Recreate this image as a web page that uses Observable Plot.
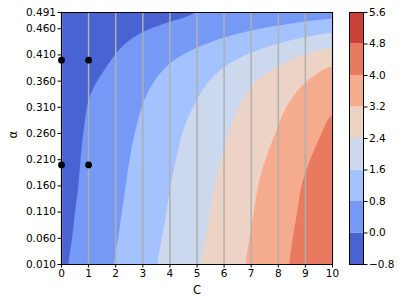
<!DOCTYPE html>
<html>
<head>
<meta charset="utf-8">
<script src="https://cdn.jsdelivr.net/npm/d3@7"></script>
<script src="https://cdn.jsdelivr.net/npm/@observablehq/plot@0.6"></script>
<style>
  html, body { margin: 0; padding: 0; background: white; }
  #wrap { position: relative; width: 399px; height: 304px; }
  #wrap svg { position: absolute; left: 0; top: 0; }
</style>
</head>
<body>
<div id="wrap"></div>
<script>
// ---- data ----
const cValues = [0, 1, 2, 3, 4, 5, 6, 7, 8, 9, 10];
const alphaRows = [0.010, 0.060, 0.110, 0.160, 0.210, 0.260, 0.310, 0.335, 0.360, 0.390, 0.410, 0.430, 0.450, 0.465, 0.478, 0.491];
const zRows = [
  [-0.13, 0.35, 0.84, 1.34, 1.84, 2.34, 2.82, 3.31, 3.81, 4.31, 4.83],
  [-0.19, 0.28, 0.75, 1.25, 1.75, 2.25, 2.74, 3.23, 3.73, 4.24, 4.75],
  [-0.23, 0.23, 0.69, 1.17, 1.66, 2.16, 2.66, 3.15, 3.65, 4.15, 4.65],
  [-0.28, 0.17, 0.62, 1.10, 1.60, 2.08, 2.58, 3.08, 3.58, 4.08, 4.58],
  [-0.31, 0.13, 0.57, 1.02, 1.49, 1.98, 2.46, 2.95, 3.43, 3.92, 4.41],
  [-0.33, 0.08, 0.50, 0.93, 1.39, 1.86, 2.33, 2.79, 3.25, 3.72, 4.19],
  [-0.37, 0.03, 0.42, 0.82, 1.24, 1.67, 2.14, 2.62, 3.08, 3.56, 4.04],
  [-0.40, -0.02, 0.36, 0.74, 1.15, 1.55, 2.03, 2.50, 2.92, 3.37, 3.85],
  [-0.50, -0.11, 0.27, 0.65, 1.03, 1.42, 1.87, 2.35, 2.78, 3.20, 3.60],
  [-0.63, -0.26, 0.11, 0.48, 0.85, 1.21, 1.57, 1.98, 2.39, 2.85, 3.31],
  [-0.66, -0.31, 0.01, 0.34, 0.66, 1.00, 1.33, 1.68, 2.06, 2.44, 2.85],
  [-0.68, -0.36, -0.08, 0.18, 0.45, 0.71, 1.02, 1.34, 1.66, 1.95, 2.25],
  [-0.68, -0.40, -0.17, 0.04, 0.26, 0.47, 0.68, 0.92, 1.20, 1.49, 1.75],
  [-0.68, -0.47, -0.27, -0.09, 0.09, 0.27, 0.46, 0.64, 0.82, 1.03, 1.24],
  [-0.68, -0.50, -0.33, -0.19, -0.05, 0.08, 0.21, 0.35, 0.48, 0.62, 0.75],
  [-0.70, -0.59, -0.48, -0.37, -0.24, -0.12, -0.02, 0.10, 0.20, 0.30, 0.40]
];
const levels = [-0.8, 0, 0.8, 1.6, 2.4, 3.2, 4.0, 4.8, 5.6];
const bandColors = ["#4a63d3", "#7699f6", "#a3c2fe", "#cbd8ee", "#ecd3c5", "#f5ab8d", "#e97a5f", "#cc403a"];
const xTicks = [0, 1, 2, 3, 4, 5, 6, 7, 8, 9, 10];
const yTicks = [0.010, 0.060, 0.110, 0.160, 0.210, 0.260, 0.310, 0.360, 0.410, 0.460, 0.491];
const pointC = [0, 1, 0, 1];
const pointAlpha = [0.40, 0.40, 0.20, 0.20];
const xLabel = "C";
const yLabel = "α";

// ---- build tables ----
const grid = alphaRows.flatMap((a, i) => cValues.map((c, j) => ({C: c, alpha: a, z: zRows[i][j]})));
const points = pointC.map((c, i) => ({C: c, alpha: pointAlpha[i]}));
const bands = levels.slice(0, -1).map((lo, i) => ({lo, hi: levels[i + 1]}));
const colorScale = {type: "threshold", domain: levels.slice(1, -1), range: bandColors};
const font = {fontFamily: "DejaVu Sans, sans-serif", fontSize: "10.5px", color: "black"};

const main = Plot.plot({
  width: 399, height: 304,
  marginLeft: 61, marginRight: 67, marginTop: 12, marginBottom: 40,
  style: {...font, background: "white"},
  x: {domain: [0, 10]},
  y: {domain: [0.010, 0.491]},
  color: colorScale,
  marks: [
    Plot.contour(grid, {x: "C", y: "alpha", fill: "z", thresholds: levels.slice(0, -1), interpolate: "barycentric", blur: 3, stroke: "none"}),
    Plot.ruleX(xTicks, {stroke: "#b0b0b0", strokeWidth: 1.5}),
    Plot.frame({stroke: "black", strokeWidth: 1}),
    Plot.axisX(xTicks, {tickSize: 3.5, tickPadding: 2, label: null, fontSize: 10.5}),
    Plot.axisY(yTicks, {tickSize: 3.5, tickPadding: 2, tickFormat: d3.format(".3f"), label: null, fontSize: 10.5}),
    Plot.dot(points, {x: "C", y: "alpha", r: 3.4, fill: "black", stroke: "none"}),
    Plot.text([xLabel], {text: d => d, frameAnchor: "bottom", dy: 26, lineAnchor: "middle", fontSize: 11.5}),
    Plot.text([yLabel], {text: d => d, frameAnchor: "left", dx: -48, rotate: -90, lineAnchor: "middle", fontSize: 11.5})
  ]
});

const cbar = Plot.plot({
  width: 399, height: 304,
  marginLeft: 349, marginRight: 36, marginTop: 12, marginBottom: 40,
  style: {...font, background: "none"},
  y: {domain: [levels[0], levels[levels.length - 1]]},
  color: colorScale,
  marks: [
    Plot.rect(bands, {y1: "lo", y2: "hi", fill: "lo"}),
    Plot.frame({stroke: "black", strokeWidth: 1}),
    Plot.axisY(levels, {anchor: "right", tickSize: 3.5, tickPadding: 2, tickFormat: d3.format(".1f"), label: null, fontSize: 10.5})
  ]
});

const wrap = document.getElementById("wrap");
wrap.appendChild(main);
wrap.appendChild(cbar);
</script>
</body>
</html>
